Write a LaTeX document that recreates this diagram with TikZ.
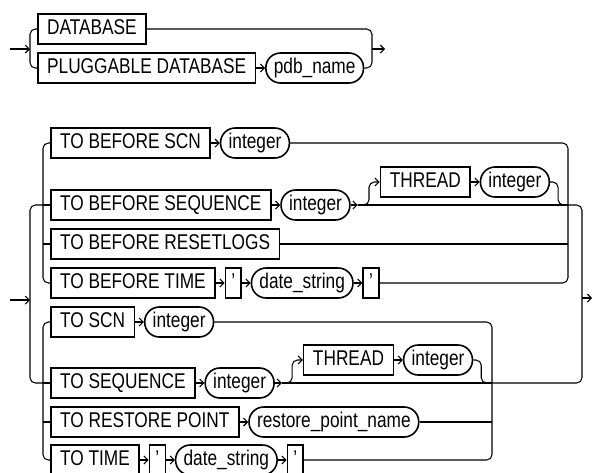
\documentclass[tikz,border=0pt]{standalone}
\usepackage{fontspec}
\setmainfont{Liberation Sans}[FakeStretch=0.81]
\usetikzlibrary{positioning, arrows.meta, calc}

\begin{document}
\begin{tikzpicture}[
    x=0.75pt, y=-0.75pt,
    kw/.style={
        rectangle,
        draw,
        line width=1.2pt,
        minimum height=22.5pt,
        inner xsep=7pt,
        text height=11.5pt,
        text depth=3pt,
        font=\fontsize{16pt}{19pt}\selectfont
    },
    quot/.style={kw, inner xsep=4.5pt},
    var/.style={kw, rounded corners=11pt, inner xsep=6pt},
    rail/.style={line width=0.8pt, rounded corners=4pt},
    arrow/.style={rail, -{Straight Barb[length=3pt, width=6pt]}}
]
\clip (0,0) rectangle (592,472);

% first choice
\node[kw, anchor=west] (db) at (37,29) {DATABASE};
\node[kw, anchor=west] (pdb) at (37,68) {PLUGGABLE DATABASE};
\node[var, right=6.5pt of pdb] (pdbname) {pdb\_name};

\coordinate (tstart) at (10,49);
\coordinate (tin) at (30,49);
\coordinate (tout) at (372,49);
\coordinate (tend) at (385,49);

\draw[arrow] (tstart) -- (tin);
\draw[rail] (db.west) -| (tin) |- (pdb.west);
\draw[arrow] (pdb) -- (pdbname);
\draw[rail] (db.east) -| (tout) |- (pdbname.east);
\draw[arrow] (tout) -- (tend);

% TO BEFORE ...
\node[kw, anchor=west] (bscn) at (50,143) {TO BEFORE SCN};
\node[var, right=6.5pt of bscn] (bscnint) {integer};
\node[kw, anchor=west] (bseq) at (50,205) {TO BEFORE SEQUENCE};
\node[var, right=6.5pt of bseq] (bseqint) {integer};
\node[kw, anchor=west] (bthread) at ($(bseqint.east)+(29,-23)$) {THREAD};
\node[var, right=6.5pt of bthread] (bthint) {integer};
\node[kw, anchor=west] (breset) at (50,244) {TO BEFORE RESETLOGS};
\node[kw, anchor=west] (btime) at (50,283) {TO BEFORE TIME};
\node[quot, right=6.5pt of btime] (bq1) {'};
\node[var, right=6.5pt of bq1] (bdate) {date\_string};
\node[quot, right=6.5pt of bdate] (bq2) {'};

% TO ...
\node[kw, anchor=west] (scn) at (50,322) {TO SCN};
\node[var, right=6.5pt of scn] (scnint) {integer};
\node[kw, anchor=west] (seq) at (50,383) {TO SEQUENCE};
\node[var, right=6.5pt of seq] (seqint) {integer};
\node[kw, anchor=west] (thread) at ($(seqint.east)+(28,-23)$) {THREAD};
\node[var, right=6.5pt of thread] (thint) {integer};
\node[kw, anchor=west] (rp) at (50,422) {TO RESTORE POINT};
\node[var, right=6.5pt of rp] (rpname) {restore\_point\_name};
\node[kw, anchor=west] (time) at (50,460) {TO TIME};
\node[quot, right=6.5pt of time] (q1) {'};
\node[var, right=6.5pt of q1] (date) {date\_string};
\node[quot, right=6.5pt of date] (q2) {'};

\coordinate (uL) at (43,205);
\coordinate (uR) at (568,205);
\coordinate (lL) at (43,383);
\coordinate (lR) at (492,383);
\coordinate (ostart) at (10,300);
\coordinate (oin) at (30,300);
\coordinate (oout) at (582,298);
\coordinate (oend) at (592,298);
\coordinate (bsplit) at ($(bseqint.east)+(7,0)$);
\coordinate (lsplit) at ($(seqint.east)+(7,0)$);

% outer choice
\draw[arrow] (ostart) -- (oin);
\draw[rail] (uL) -| (oin) |- (lL);
\draw[rail] (uR) -| (oout) |- (lR);
\draw[arrow] (oout) -- (oend);

% upper group
\draw[rail] (bscn.west) -| (uL) |- (btime.west);
\draw[rail] (uL) -- (bseq.west);
\draw[rail] (breset.west -| uL) -- (breset.west);
\draw[arrow] (bscn) -- (bscnint);
\draw[arrow] (bseq) -- (bseqint);
\draw[arrow] (bseqint.east) -- (bsplit);
\draw[rail] (bsplit) -- (uR);
\draw[arrow] (bsplit) -| ([xshift=-8pt]bthread.west) -- (bthread.west);
\draw[arrow] (bthread) -- (bthint);
\draw[rail] (bthint.east) -- ++(8,0) |- ++(8,23);
\draw[arrow] (btime) -- (bq1);
\draw[arrow] (bq1) -- (bdate);
\draw[arrow] (bdate) -- (bq2);
\draw[rail] (bscnint.east) -| (uR) |- (bq2.east);
\draw[rail] (breset.east) -- (breset.east -| uR);

% lower group
\draw[rail] (scn.west) -| (lL) |- (time.west);
\draw[rail] (lL) -- (seq.west);
\draw[rail] (rp.west -| lL) -- (rp.west);
\draw[arrow] (scn) -- (scnint);
\draw[arrow] (seq) -- (seqint);
\draw[arrow] (seqint.east) -- (lsplit);
\draw[rail] (lsplit) -- (lR);
\draw[arrow] (lsplit) -| ([xshift=-8pt]thread.west) -- (thread.west);
\draw[arrow] (thread) -- (thint);
\draw[rail] (thint.east) -- ++(8,0) |- ++(8,23);
\draw[arrow] (rp) -- (rpname);
\draw[arrow] (time) -- (q1);
\draw[arrow] (q1) -- (date);
\draw[arrow] (date) -- (q2);
\draw[rail] (scnint.east) -| (lR) |- (q2.east);
\draw[rail] (rpname.east) -- (rpname.east -| lR);

\end{tikzpicture}
\end{document}
